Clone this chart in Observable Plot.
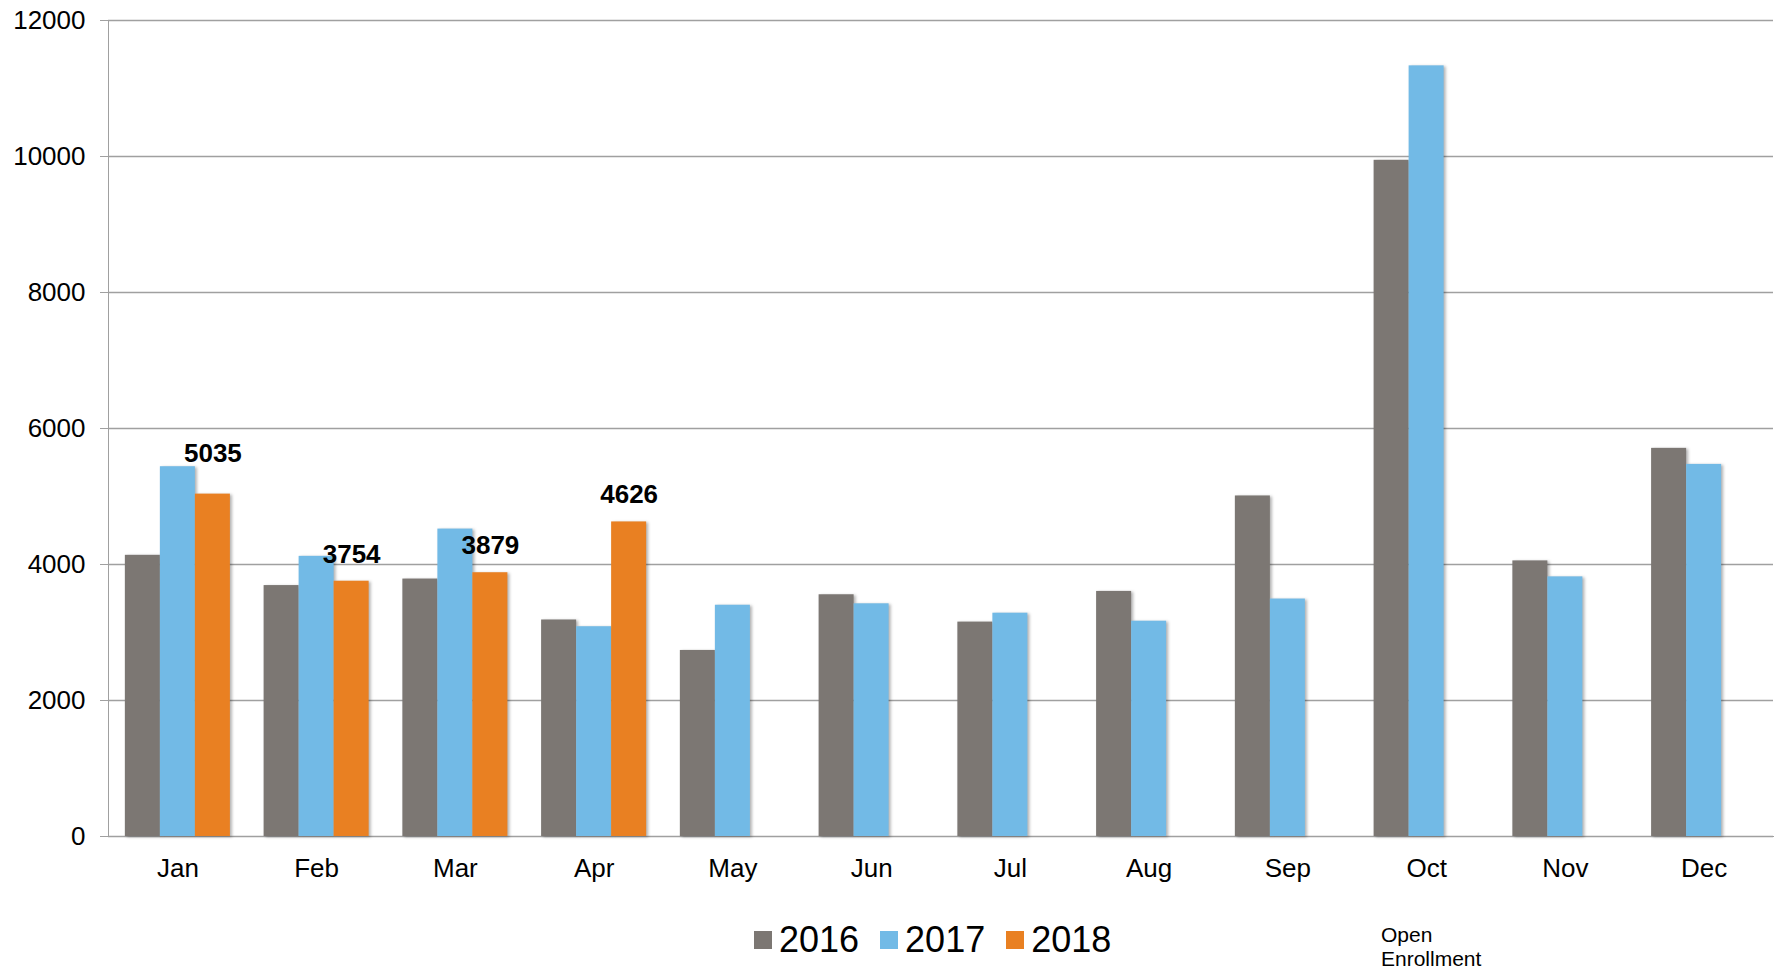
<!DOCTYPE html>
<html>
<head>
<meta charset="utf-8">
<script src="https://cdn.jsdelivr.net/npm/d3@7"></script>
<script src="https://cdn.jsdelivr.net/npm/@observablehq/plot@0.6"></script>
<style>
  body { margin: 0; background: #fff; font-family: "Liberation Sans", Arial, sans-serif; }
  #wrap { position: relative; width: 1779px; height: 971px; overflow: hidden; }
  #chart svg text { fill: #000; }
  #chart svg g[aria-label="bar"] { filter: drop-shadow(2px 1px 1.5px rgba(0,0,0,0.3)); }
  .legend { position: absolute; top: 920px; left: 754px; display: flex; align-items: center;
            font-size: 36px; line-height: 40px; color: #000; }
  .legend .item { display: flex; align-items: center; margin-right: 21px; }
  .legend .sw { width: 18px; height: 18px; margin-right: 7px; }
  .note { position: absolute; left: 1381px; top: 923px; font-size: 21px; line-height: 24px; color: #000; }
</style>
</head>
<body>
<div id="wrap">
  <div id="chart"></div>
  <div class="legend" id="legend"></div>
  <div class="note">Open<br>Enrollment</div>
</div>
<script>
const months = ["Jan", "Feb", "Mar", "Apr", "May", "Jun", "Jul", "Aug", "Sep", "Oct", "Nov", "Dec"];
const years = ["2016", "2017", "2018"];
const v2016 = [4135, 3690, 3786, 3184, 2736, 3555, 3153, 3604, 5008, 9944, 4053, 5708];
const v2017 = [5438, 4120, 4521, 3085, 3401, 3422, 3284, 3166, 3492, 11333, 3818, 5472];
const v2018 = [5035, 3754, 3879, 4626];
const yTicks = [0, 2000, 4000, 6000, 8000, 10000, 12000];
const colors = ["#7c7773", "#72bae6", "#e98022"];

const series = [v2016, v2017, v2018];
const rows = [];
series.forEach((arr, j) => arr.forEach((v, i) => rows.push({month: months[i], year: years[j], value: v})));

const W = 1779, mL = 108, mR = 6;
const padIn = 0.243, padOut = padIn / 2;

const base = {
  width: W,
  height: 900,
  marginLeft: mL,
  marginRight: mR,
  marginTop: 20,
  marginBottom: 64,
  style: {fontFamily: "'Liberation Sans', Arial, sans-serif", fontSize: "26px", color: "#a0a0a0", background: "#fff"},
  x: {domain: months, paddingInner: padIn, paddingOuter: padOut, round: false, tickSize: 0, tickPadding: 22, label: null, line: true},
  y: {domain: [0, 12000], ticks: yTicks, tickSize: 8, tickPadding: 15, tickFormat: d => String(d), label: null, line: true}
};

// band width of the x scale, used to split each month band into three year slots
const bandScale = d3.scaleBand(months, [mL, W - mR]).paddingInner(padIn).paddingOuter(padOut);
const slot = bandScale.bandwidth() / 3;

const barMarks = years.map((yr, j) =>
  Plot.barY(rows.filter(d => d.year === yr), {
    x: "month", y: "value", fill: colors[j],
    insetLeft: j * slot, insetRight: (2 - j) * slot
  })
);

const labeled = rows.filter(d => d.year === "2018");

const chart = Plot.plot({
  ...base,
  marks: [
    Plot.ruleY(yTicks, {stroke: "#a0a0a0", strokeWidth: 1.3}),
    ...barMarks,
    Plot.text(labeled.filter(d => d.month !== "Jan"), {x: "month", y: "value", text: d => String(d.value),
      dx: slot, dy: -27, fontWeight: "bold", fontSize: 26}),
    Plot.text(labeled.filter(d => d.month === "Jan"), {x: "month", y: "value", text: d => String(d.value),
      dx: slot, dy: -40, fontWeight: "bold", fontSize: 26})
  ]
});
document.getElementById("chart").appendChild(chart);

const legend = document.getElementById("legend");
years.forEach((yr, j) => {
  const item = document.createElement("div");
  item.className = "item";
  const sw = document.createElement("span");
  sw.className = "sw";
  sw.style.background = colors[j];
  const t = document.createElement("span");
  t.textContent = yr;
  item.appendChild(sw);
  item.appendChild(t);
  legend.appendChild(item);
});
</script>
</body>
</html>
